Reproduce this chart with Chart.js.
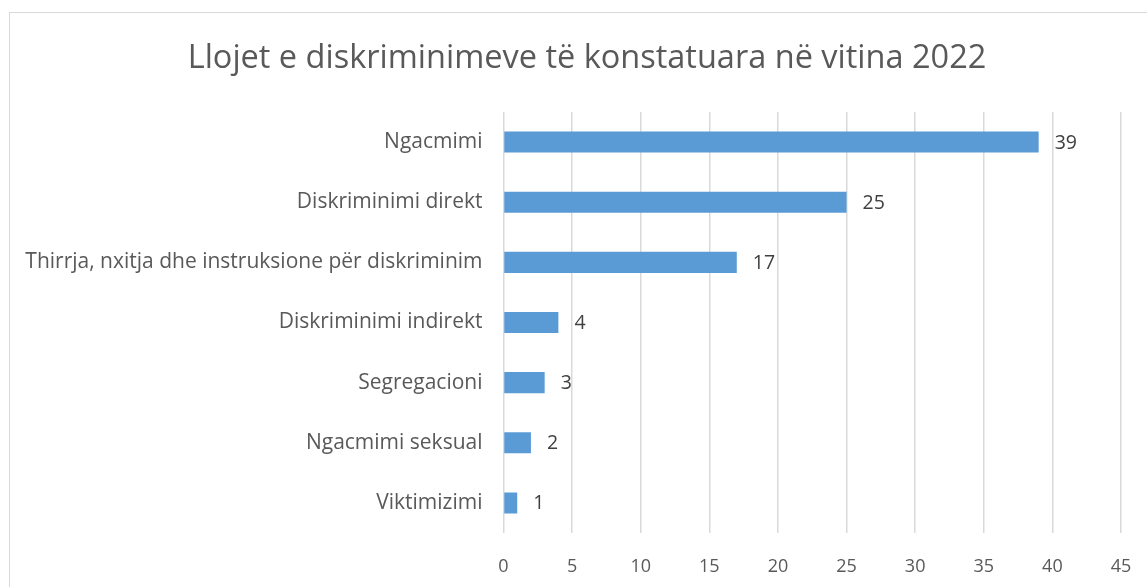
<!DOCTYPE html>
<html>
<head>
<meta charset="utf-8">
<script src="https://cdn.jsdelivr.net/npm/chart.js@4"></script>
<style>
  html, body { margin: 0; padding: 0; background: #fff; }
  #wrap { width: 1147px; height: 587px; position: relative; }
</style>
</head>
<body>
<div id="wrap"><canvas id="chart"></canvas></div>
<script>
const categories = [
  'Ngacmimi',
  'Diskriminimi direkt',
  'Thirrja, nxitja dhe instruksione për diskriminim',
  'Diskriminimi indirekt',
  'Segregacioni',
  'Ngacmimi seksual',
  'Viktimizimi'
];
const values = [39, 25, 17, 4, 3, 2, 1];
const xTicks = [0, 5, 10, 15, 20, 25, 30, 35, 40, 45];
const titleText = 'Llojet e diskriminimeve të konstatuara në vitina 2022';

const FONT = '"Open Sans", sans-serif';

// light frame + title, drawn by hand so the title can sit where the original has it
const framePlugin = {
  id: 'frame',
  beforeDraw(chart) {
    const c = chart.ctx;
    c.save();
    c.fillStyle = '#fff';
    c.fillRect(0, 0, chart.width, chart.height);
    c.strokeStyle = '#d9d9d9';
    c.lineWidth = 1;
    c.strokeRect(9.5, 12.5, chart.width + 20, chart.height + 20);
    c.fillStyle = '#595959';
    c.font = '32.5px ' + FONT;
    c.textAlign = 'center';
    c.textBaseline = 'alphabetic';
    c.fillText(titleText, 587, 68);
    c.restore();
  }
};

// value labels at the end of each bar
const valueLabels = {
  id: 'valueLabels',
  afterDatasetsDraw(chart) {
    const c = chart.ctx;
    const meta = chart.getDatasetMeta(0);
    c.save();
    c.fillStyle = '#404040';
    c.font = '19.5px ' + FONT;
    c.textAlign = 'left';
    c.textBaseline = 'middle';
    meta.data.forEach((bar, i) => {
      c.fillText(String(values[i]), bar.x + 16, bar.y + 1);
    });
    c.restore();
  }
};

new Chart(document.getElementById('chart'), {
  type: 'bar',
  data: {
    labels: categories,
    datasets: [{
      data: values,
      backgroundColor: '#5b9bd5',
      borderWidth: 0,
      barPercentage: 0.35,
      categoryPercentage: 1
    }]
  },
  options: {
    indexAxis: 'y',
    responsive: true,
    maintainAspectRatio: false,
    animation: false,
    layout: { padding: { left: 0, right: 26, top: 112, bottom: 0 } },
    plugins: {
      legend: { display: false },
      tooltip: { enabled: false },
      title: { display: false }
    },
    scales: {
      x: {
        min: 0,
        max: 45,
        afterBuildTicks(scale) {
          scale.ticks = xTicks.map(v => ({ value: v }));
        },
        afterFit(scale) { scale.height = 54; },
        // invisible tick marks push the labels down without the horizontal padding that ticks.padding adds
        grid: { color: '#d9d9d9', lineWidth: 1.5, drawTicks: true, tickLength: 23, tickColor: 'rgba(0,0,0,0)' },
        border: { display: false },
        ticks: { color: '#595959', padding: 0, font: { family: FONT, size: 18 } }
      },
      y: {
        afterFit(scale) { scale.width = 503.5; },
        grid: { display: false, drawTicks: false },
        border: { display: false },
        ticks: { color: '#595959', padding: 21, font: { family: FONT, size: 21 } }
      }
    }
  },
  plugins: [framePlugin, valueLabels]
});
</script>
</body>
</html>
